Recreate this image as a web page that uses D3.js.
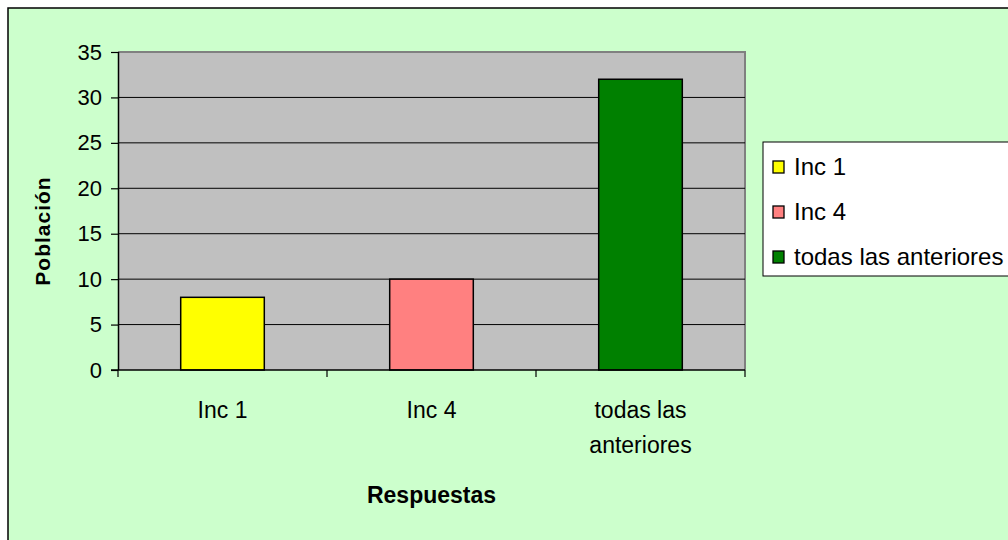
<!DOCTYPE html>
<html>
<head>
<meta charset="utf-8">
<script src="https://cdn.jsdelivr.net/npm/d3@7"></script>
<style>
  body { margin: 0; background: #fff; }
  svg { display: block; font-family: "Liberation Sans", Arial, sans-serif; }
</style>
</head>
<body>
<script>
const width = 1008;
const height = 540;

// data
const categories = ["Inc 1", "Inc 4", "todas las anteriores"];
const catLines = [["Inc 1"], ["Inc 4"], ["todas las", "anteriores"]];
const values = [8, 10, 32];
const barColors = ["#FFFF00", "#FF8080", "#008000"];
const yTicks = [0, 5, 10, 15, 20, 25, 30, 35];

const plot = {left: 118, top: 52, right: 745, bottom: 370};

let svg = d3.select("body").append("svg")
    .attr("width", width)
    .attr("height", height)

// chart area
svg.append("rect")
    .attr("x", 8)
    .attr("y", 8)
    .attr("width", width + 10)
    .attr("height", height + 10)
    .attr("fill", "#CCFFCC")
    .attr("stroke", "#000")
    .attr("stroke-width", 1.5)

let x = d3.scaleBand()
    .domain(categories)
    .range([plot.left, plot.right])
    .paddingInner(0)

let y = d3.scaleLinear()
    .domain([0, 35])
    .range([plot.bottom, plot.top])

// plot area
svg.append("rect")
    .attr("x", plot.left)
    .attr("y", plot.top)
    .attr("width", plot.right - plot.left)
    .attr("height", plot.bottom - plot.top)
    .attr("fill", "#C0C0C0")
svg.append("path")
    .attr("d", `M${plot.left},${plot.top}H${plot.right}V${plot.bottom}`)
    .attr("fill", "none")
    .attr("stroke", "#808080")
    .attr("stroke-width", 2)

// gridlines
svg.append("g")
    .selectAll("line")
    .data(yTicks.filter(d => d > 0 && d < 35))
    .enter()
    .append("line")
    .attr("x1", plot.left)
    .attr("x2", plot.right)
    .attr("y1", d => y(d))
    .attr("y2", d => y(d))
    .attr("stroke", "#000")
    .attr("stroke-width", 1)

// bars
let barW = x.bandwidth() * 0.4;
svg.append("g")
    .selectAll("rect")
    .data(values)
    .enter()
    .append("rect")
    .attr("x", (d, i) => x(categories[i]) + (x.bandwidth() - barW) / 2)
    .attr("y", d => y(d))
    .attr("width", barW)
    .attr("height", d => y(0) - y(d))
    .attr("fill", (d, i) => barColors[i])
    .attr("stroke", "#000")
    .attr("stroke-width", 1.5)

// y axis
let yAxis = svg.append("g")
    .attr("transform", `translate(${plot.left},0)`)
    .call(d3.axisLeft(y).tickValues(yTicks).tickSize(7).tickPadding(9))
yAxis.select(".domain").attr("stroke", "#000").attr("stroke-width", 1.5)
    .attr("d", `M0.5,${plot.top}V${plot.bottom}`)
yAxis.selectAll(".tick line").attr("stroke", "#000").attr("stroke-width", 1.2)
yAxis.selectAll(".tick text")
    .attr("font-size", 22)
    .attr("font-family", "Liberation Sans, Arial, sans-serif")
    .attr("fill", "#000")

// x axis
let xg = svg.append("g")
    .attr("transform", `translate(0,${plot.bottom})`)
xg.append("line")
    .attr("x1", plot.left - 7)
    .attr("x2", plot.right)
    .attr("y1", 0)
    .attr("y2", 0)
    .attr("stroke", "#000")
    .attr("stroke-width", 1.5)
let edges = categories.map(c => x(c)).concat([plot.right]);
xg.selectAll(".xtick")
    .data(edges)
    .enter()
    .append("line")
    .attr("x1", d => d)
    .attr("x2", d => d)
    .attr("y1", 0)
    .attr("y2", 7)
    .attr("stroke", "#000")
    .attr("stroke-width", 1.2)
xg.selectAll(".xlabel")
    .data(catLines)
    .enter()
    .append("text")
    .attr("text-anchor", "middle")
    .attr("font-size", 23)
    .attr("fill", "#000")
    .each(function (lines, i) {
        d3.select(this).selectAll("tspan")
            .data(lines)
            .enter()
            .append("tspan")
            .attr("x", x(categories[i]) + x.bandwidth() / 2)
            .attr("y", (d, j) => 48 + j * 35)
            .text(d => d)
    })

// axis titles
svg.append("text")
    .attr("x", (plot.left + plot.right) / 2)
    .attr("y", 503)
    .attr("text-anchor", "middle")
    .attr("font-size", 23)
    .attr("font-weight", "bold")
    .text("Respuestas")

svg.append("text")
    .attr("transform", `translate(50,${(plot.top + plot.bottom) / 2 + 20}) rotate(-90)`)
    .attr("text-anchor", "middle")
    .attr("font-size", 21)
    .attr("font-weight", "bold")
    .attr("style", "letter-spacing:1px")
    .text("Población")

// legend
svg.append("rect")
    .attr("x", 763)
    .attr("y", 142)
    .attr("width", 260)
    .attr("height", 134)
    .attr("fill", "#fff")
    .attr("stroke", "#000")
    .attr("stroke-width", 1)
let legend = svg.append("g")
let item = legend.selectAll("g")
    .data(categories)
    .enter()
    .append("g")
    .attr("transform", (d, i) => `translate(773,${167 + i * 45})`)
item.append("rect")
    .attr("x", 0)
    .attr("y", -6)
    .attr("width", 11)
    .attr("height", 12)
    .attr("fill", (d, i) => barColors[i])
    .attr("stroke", "#000")
    .attr("stroke-width", 1.3)
item.append("text")
    .attr("x", 21)
    .attr("y", 8)
    .attr("font-size", 24)
    .text(d => d)
</script>
</body>
</html>
